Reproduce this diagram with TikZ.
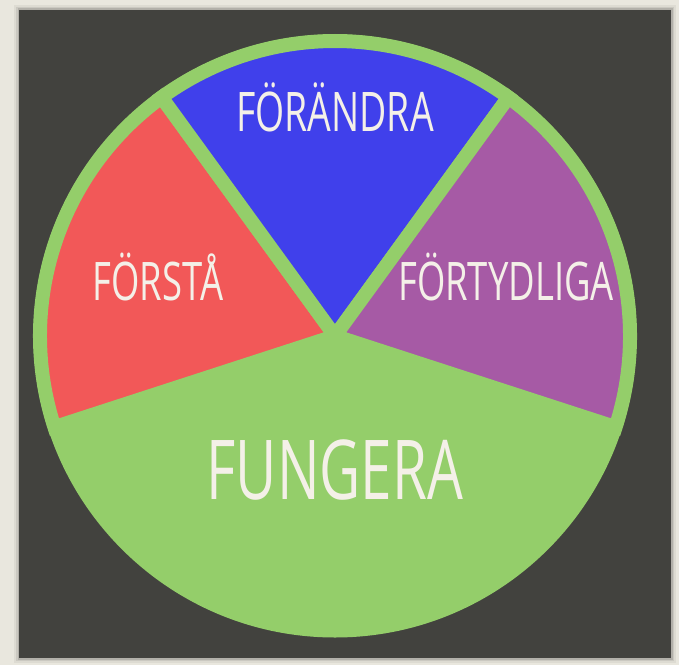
\documentclass[tikz,border=0pt]{standalone}
\usepackage{fontspec}
\setmainfont{Open Sans}[FakeStretch=0.685]

\definecolor{papper}{HTML}{E9E7DE}
\definecolor{tavla}{HTML}{42423E}
\definecolor{gron}{HTML}{94CE6A}
\definecolor{rod}{HTML}{F25858}
\definecolor{bla}{HTML}{4040EB}
\definecolor{lila}{HTML}{A65AA5}
\definecolor{krita}{HTML}{F4F0E8}

\tikzset{
  sektor/.style={draw=gron, line width=14pt, line join=miter},
  etikett/.style={text=krita, anchor=base, inner sep=0pt}
}

\begin{document}
\begin{tikzpicture}[x=1pt, y=1pt]
    \useasboundingbox (0,0) rectangle (679,665);

    % 背景和黑板
    \fill[papper] (0,0) rectangle (679,665);
    \foreach \d/\o in {5/0.05, 3/0.08, 1.5/0.12}
        \fill[black, opacity=\o] (19-\d,7-\d) rectangle (671+\d,655+\d);
    \fill[tavla] (19,7) rectangle (671,655);

    % 绿色圆盘
    \coordinate (mitt) at (335,329);
    \fill[gron] (mitt) circle (301.5);

    % 三个扇形，每个 72 度
    \filldraw[sektor, fill=rod]  (mitt) -- ++(126:295) arc (126:198:295) -- cycle;
    \filldraw[sektor, fill=bla]  (mitt) -- ++(54:295)  arc (54:126:295)  -- cycle;
    \filldraw[sektor, fill=lila] (mitt) -- ++(-18:295) arc (-18:54:295)  -- cycle;

    % 标注文字
    \node[etikett, font=\fontsize{54.6}{60}\selectfont] (forandra) at (335,533) {FÖRÄNDRA};
    \node[etikett, font=\fontsize{53.2}{60}\selectfont] (forsta) at (158,365) {FÖRSTÅ};
    \node[etikett, font=\fontsize{53.2}{60}\selectfont] (fortydliga) at (506,365) {FÖRTYDLIGA};
    \node[etikett, font=\fontsize{82.6}{90}\selectfont] (fungera) at (335,166) {FUNGERA};
\end{tikzpicture}
\end{document}
